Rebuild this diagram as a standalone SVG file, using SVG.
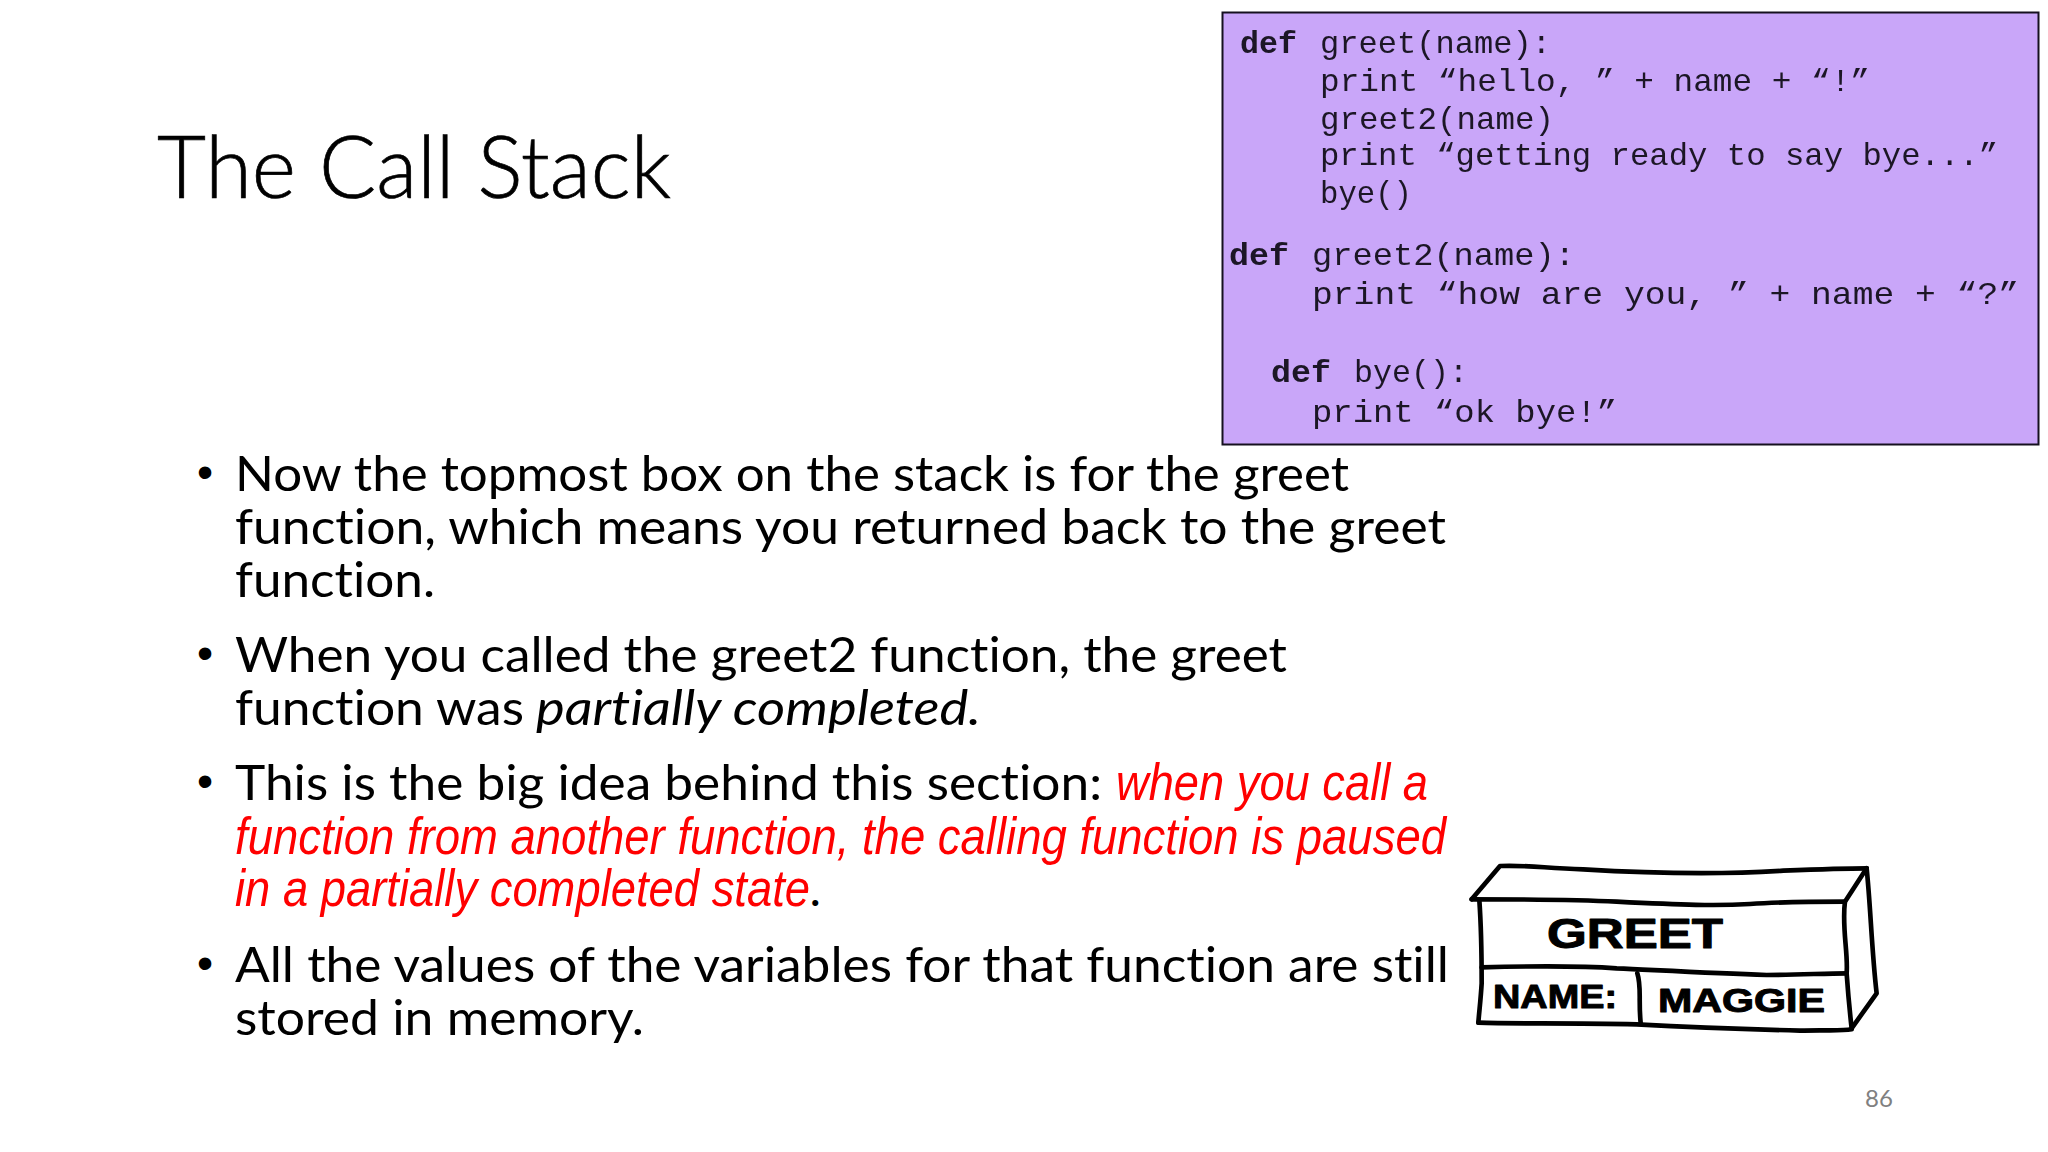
<svg xmlns="http://www.w3.org/2000/svg" width="2048" height="1152" viewBox="0 0 2048 1152">
<style>
.b{font-family:"Lato","Open Sans",sans-serif;font-size:48px;fill:#000;font-variant-ligatures:none}
.p{font-family:"Liberation Sans",Arial,sans-serif;font-size:46px;fill:#000}
.r{font-family:"Liberation Sans",Arial,sans-serif;font-style:italic;font-size:52px;fill:#f00}
.c{font-family:"Liberation Mono","Courier New",monospace;font-size:32px;fill:#1c1826}
.d{font-weight:700}
.h{font-family:"Liberation Sans",Arial,sans-serif;font-weight:700;fill:#000;stroke:#000;stroke-width:1;stroke-linejoin:round}
.w{fill:none;stroke:#000;stroke-width:14;stroke-linecap:round;stroke-linejoin:round}
</style>
<defs><filter id="soft" x="-5%" y="-5%" width="110%" height="110%"><feGaussianBlur stdDeviation="0.5"/></filter></defs>
<rect width="2048" height="1152" fill="#fff"/>
<text id="title" x="157" y="198" font-family="Lato,'Open Sans',sans-serif" font-weight="300" font-size="86" textLength="514" lengthAdjust="spacingAndGlyphs" fill="#000" stroke="#000" stroke-width="0.7" style="font-variant-ligatures:none">The Call Stack</text>
<g id="code">
<rect x="1222.5" y="12.5" width="816" height="432" fill="#c9a6f9" stroke="#15101f" stroke-width="2"/>
<g filter="url(#soft)">
<text class="c d" x="1240" y="53" textLength="57" lengthAdjust="spacingAndGlyphs">def</text>
<text class="c" x="1320" y="53" textLength="231" lengthAdjust="spacingAndGlyphs">greet(name):</text>
<text class="c" x="1320" y="91" textLength="550" lengthAdjust="spacingAndGlyphs">print “hello, ” + name + “!”</text>
<text class="c" x="1320" y="129" textLength="234" lengthAdjust="spacingAndGlyphs">greet2(name)</text>
<text class="c" x="1320" y="165" textLength="678" lengthAdjust="spacingAndGlyphs">print “getting ready to say bye...”</text>
<text class="c" x="1320" y="203" textLength="92" lengthAdjust="spacingAndGlyphs">bye()</text>
<text class="c d" x="1229" y="265" textLength="60" lengthAdjust="spacingAndGlyphs">def</text>
<text class="c" x="1312" y="265" textLength="263" lengthAdjust="spacingAndGlyphs">greet2(name):</text>
<text class="c" x="1312" y="304" textLength="707" lengthAdjust="spacingAndGlyphs">print “how are you, ” + name + “?”</text>
<text class="c d" x="1271" y="382" textLength="60" lengthAdjust="spacingAndGlyphs">def</text>
<text class="c" x="1354" y="382" textLength="114" lengthAdjust="spacingAndGlyphs">bye():</text>
<text class="c" x="1312" y="422" textLength="305" lengthAdjust="spacingAndGlyphs">print “ok bye!”</text>
</g>
</g>
<g id="bullets">
<text class="p" x="197" y="488">•</text>
<text class="b" x="235" y="491" textLength="1114" lengthAdjust="spacingAndGlyphs">Now the topmost box on the stack is for the greet</text>
<text class="b" x="235" y="544" textLength="1211" lengthAdjust="spacingAndGlyphs">function, which means you returned back to the greet</text>
<text class="b" x="235" y="597" textLength="200" lengthAdjust="spacingAndGlyphs">function.</text>
<text class="p" x="197" y="669">•</text>
<text class="b" x="235" y="672" textLength="1052" lengthAdjust="spacingAndGlyphs">When you called the greet2 function, the greet</text>
<text class="b" x="235" y="725" textLength="289" lengthAdjust="spacingAndGlyphs">function was</text>
<text class="b" font-style="italic" x="536" y="725" textLength="445" lengthAdjust="spacingAndGlyphs">partially completed.</text>
<text class="p" x="197" y="797">•</text>
<text class="b" x="235" y="800" textLength="867" lengthAdjust="spacingAndGlyphs">This is the big idea behind this section:</text>
<text class="r" x="1116" y="800" textLength="312" lengthAdjust="spacingAndGlyphs">when you call a</text>
<text class="r" x="235" y="854" textLength="1211" lengthAdjust="spacingAndGlyphs">function from another function, the calling function is paused</text>
<text class="r" x="235" y="906" textLength="575" lengthAdjust="spacingAndGlyphs">in a partially completed state</text>
<text class="b" font-style="italic" x="811" y="906">.</text>
<text class="p" x="197" y="979">•</text>
<text class="b" x="235" y="982" textLength="1214" lengthAdjust="spacingAndGlyphs">All the values of the variables for that function are still</text>
<text class="b" x="235" y="1035" textLength="409" lengthAdjust="spacingAndGlyphs">stored in memory.</text>
</g>
<g id="greet-box">
<g transform="translate(1450 840) scale(.3333)">
<path class="w" d="M65 178L150 78C250 75 280 85 400 88C600 100 800 105 1000 92C1100 88 1180 85 1250 85"/>
<path class="w" d="M65 178C250 178 400 180 500 185C700 195 800 198 900 192C1000 185 1100 185 1185 185"/>
<path class="w" d="M1250 85L1185 185C1175 260 1195 340 1190 400C1195 470 1200 520 1205 565"/>
<path class="w" d="M1250 85C1262 200 1265 330 1280 460L1205 565"/>
<path class="w" d="M88 180C95 280 95 380 95 430C92 480 88 510 85 548"/>
<path class="w" d="M95 382C250 378 400 378 500 385C650 392 800 400 950 405C1050 405 1120 400 1190 400"/>
<path class="w" d="M85 548C200 552 350 548 560 553C750 563 900 568 1050 572C1120 569 1170 574 1205 568"/>
<path class="w" d="M562 400C575 440 565 480 572 548"/>
</g>
<text class="h" x="1547" y="948" font-size="42" textLength="176" lengthAdjust="spacingAndGlyphs">GREET</text>
<text class="h" x="1493" y="1008" font-size="34" textLength="124" lengthAdjust="spacingAndGlyphs">NAME:</text>
<text class="h" x="1658" y="1012" font-size="34" textLength="167" lengthAdjust="spacingAndGlyphs">MAGGIE</text>
</g>
<text id="page" x="1865" y="1107" font-family="Lato,'Open Sans',sans-serif" font-size="24" fill="#808080">86</text>
</svg>
